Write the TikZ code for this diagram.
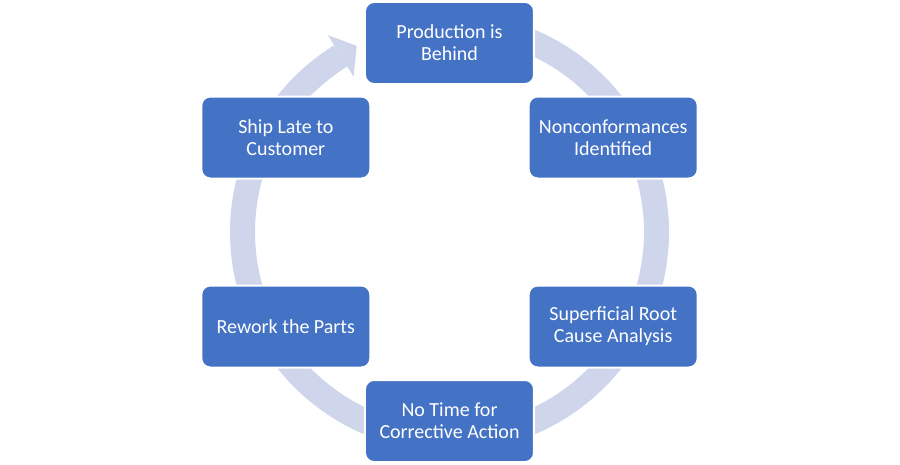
\documentclass[tikz,border=0pt]{standalone}
\usepackage{fontspec}
\setmainfont{Carlito}
\definecolor{boxblue}{HTML}{4472C4}
\definecolor{ringcol}{HTML}{CFD5EA}
\begin{document}
\begin{tikzpicture}[x=1pt,y=1pt,
  cyclebox/.style={rectangle, rounded corners=9pt, fill=boxblue, draw=white, line width=2pt,
    minimum width=169pt, minimum height=82pt, inner sep=0pt, text=white, align=center,
    font=\fontsize{20}{22}\selectfont},
  ring/.style={draw=ringcol, line width=25pt},
  ringhead/.style={fill=ringcol}]
\useasboundingbox (-449.5,-232) rectangle (450.5,232);
% ring band (clockwise from the top node round to its left side)
\draw[ring] (90:207) arc[start angle=90, end angle=-238.3, radius=207];
\fill[ringhead] (121.7:231.5) -- (116.5:208) -- (121.7:182.5) -- cycle;
% nodes
\node[cyclebox] (n1) at (90:189) {Production is\\Behind};
\node[cyclebox] (n2) at (30:189) {Nonconformances\\Identified};
\node[cyclebox] (n3) at (-30:189) {Superficial Root\\Cause Analysis};
\node[cyclebox] (n4) at (-90:189) {No Time for\\Corrective Action};
\node[cyclebox] (n5) at (-150:189) {Rework the Parts};
\node[cyclebox] (n6) at (150:189) {Ship Late to\\Customer};
\end{tikzpicture}
\end{document}
